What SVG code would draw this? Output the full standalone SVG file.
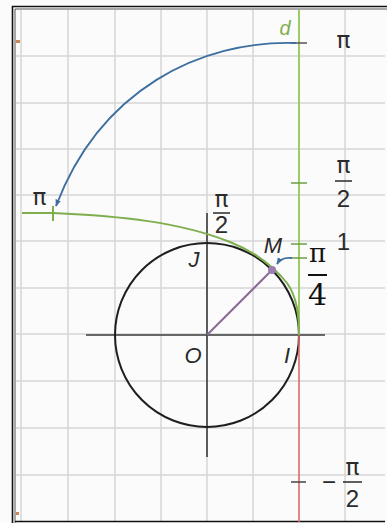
<svg xmlns="http://www.w3.org/2000/svg" width="387" height="523" viewBox="0 0 387 523">
<style>
.grid{stroke:#d6d6d6;stroke-width:1.5;fill:none}
.lbl{font-family:"Liberation Sans","DejaVu Sans",sans-serif;fill:#2a2a2a;font-size:24px;text-anchor:middle}
.pi{font-family:"DejaVu Sans",sans-serif;fill:#2a2a2a;font-size:23px;text-anchor:middle}
.it{font-family:"Liberation Sans","DejaVu Sans",sans-serif;font-style:italic;fill:#2a2a2a;font-size:22px;text-anchor:middle}
.bar{stroke:#2a2a2a;stroke-width:1.5}
.tick{stroke:#6e9e45;stroke-width:1.5}
.axis{stroke:#3a3a3a;stroke-width:1.6;fill:none}
</style>
<defs>
<marker id="arr" viewBox="0 0 10 10" refX="9" refY="5" markerWidth="7" markerHeight="7" orient="auto" markerUnits="userSpaceOnUse">
<path d="M0,1 L10,5 L0,9 z" fill="#3d6ea0"/>
</marker>
</defs>
<rect x="0" y="0" width="387" height="523" fill="#fbfbfb"/>
<!-- grid -->
<g id="grid" class="grid">
<path d="M21,10 V521 M68,10 V521 M115,10 V521 M161,10 V521 M207,10 V521 M253,10 V521 M345,10 V521"/>
<path d="M16,56 H385 M16,103 H385 M16,149 H385 M16,195 H385 M16,241 H385 M16,288 H385 M16,334 H385 M16,381 H385 M16,428 H385 M16,475 H385"/>
</g>
<!-- frame -->
<path d="M12.5,523 V6.5 H387" fill="none" stroke="#111" stroke-width="1.6"/>
<path d="M15,523 V9 H387" fill="none" stroke="#555" stroke-width="1"/>
<path d="M15,521.5 H385" fill="none" stroke="#111" stroke-width="1.6"/>
<rect x="16" y="40" width="4" height="3" fill="#c8875a"/>
<rect x="16" y="512" width="3" height="3" fill="#c8875a"/>
<!-- axes and circle -->
<g id="axes">
<line class="axis" x1="86" y1="335" x2="325" y2="335"/>
<line class="axis" x1="207" y1="213" x2="207" y2="457"/>
</g>
<g id="circle">
<circle cx="207" cy="335" r="92" fill="none" stroke="#1e1e1e" stroke-width="2"/>
</g>
<!-- line d and its image -->
<g id="line-d">
<line x1="299" y1="10" x2="299" y2="335" stroke="#9ccc65" stroke-width="2"/>
<line x1="299" y1="335" x2="299" y2="522" stroke="#e06a6a" stroke-width="1.6"/>
<line x1="291" y1="43" x2="307" y2="43" stroke="#555" stroke-width="1.5"/>
<line class="tick" x1="291" y1="183" x2="307" y2="183"/>
<line class="tick" x1="291" y1="244" x2="307" y2="244"/>
<line class="tick" x1="291" y1="258" x2="307" y2="258"/>
<line x1="291" y1="482" x2="306" y2="482" stroke="#444" stroke-width="1.5"/>
<text x="285" y="35" font-family="Liberation Sans, sans-serif" font-style="italic" font-size="20" fill="#7fae4f" text-anchor="middle">d</text>
</g>
<g id="wrapped-curve">
<path d="M22,213 L53,213 C120,216 180,222 230,242 C255,252 275,268 287,283 C297,297 299,315 299,335" fill="none" stroke="#7fae4f" stroke-width="2"/>
<line x1="53" y1="206" x2="53" y2="221" stroke="#7fae4f" stroke-width="2"/>
</g>
<g id="segment-OM">
<line x1="207" y1="335" x2="272" y2="270" stroke="#8a6a9a" stroke-width="2"/>
<circle cx="272" cy="270" r="4" fill="#9b7bb0"/>
</g>
<!-- connectors -->
<g id="connectors" fill="none" stroke="#3d6ea0" stroke-width="1.8">
<path d="M296,43 C200,40 100,90 56,206" marker-end="url(#arr)"/>
<path d="M292,258 C284,257 280,259 277,264" marker-end="url(#arr)"/>
</g>
<!-- labels -->
<g id="labels">
<text class="pi" x="343.5" y="48">π</text>
<text class="pi" x="343.5" y="173">π</text>
<line class="bar" x1="335" y1="181" x2="352" y2="181"/>
<text class="lbl" x="343.5" y="207">2</text>
<text class="lbl" x="343.5" y="250">1</text>
<text class="pi" x="39.5" y="205">π</text>
<text class="pi" x="221.5" y="207">π</text>
<line class="bar" x1="213" y1="213" x2="230" y2="213"/>
<text class="lbl" x="221.5" y="233">2</text>
<text class="lbl" x="329" y="490">−</text>
<text class="pi" x="352.5" y="475">π</text>
<line class="bar" x1="343" y1="482" x2="362" y2="482"/>
<text class="lbl" x="352.5" y="507">2</text>
<text x="317.5" y="262" font-family="DejaVu Serif, serif" font-size="26" fill="#111" text-anchor="middle">π</text>
<line x1="308" y1="275" x2="327" y2="275" stroke="#111" stroke-width="2"/>
<text x="317.5" y="305" font-family="DejaVu Serif, serif" font-size="30" fill="#111" text-anchor="middle">4</text>
<text class="it" x="194" y="267">J</text>
<text class="it" x="273" y="253">M</text>
<text class="it" x="193" y="363">O</text>
<text class="it" x="287" y="363">I</text>
</g>
</svg>
